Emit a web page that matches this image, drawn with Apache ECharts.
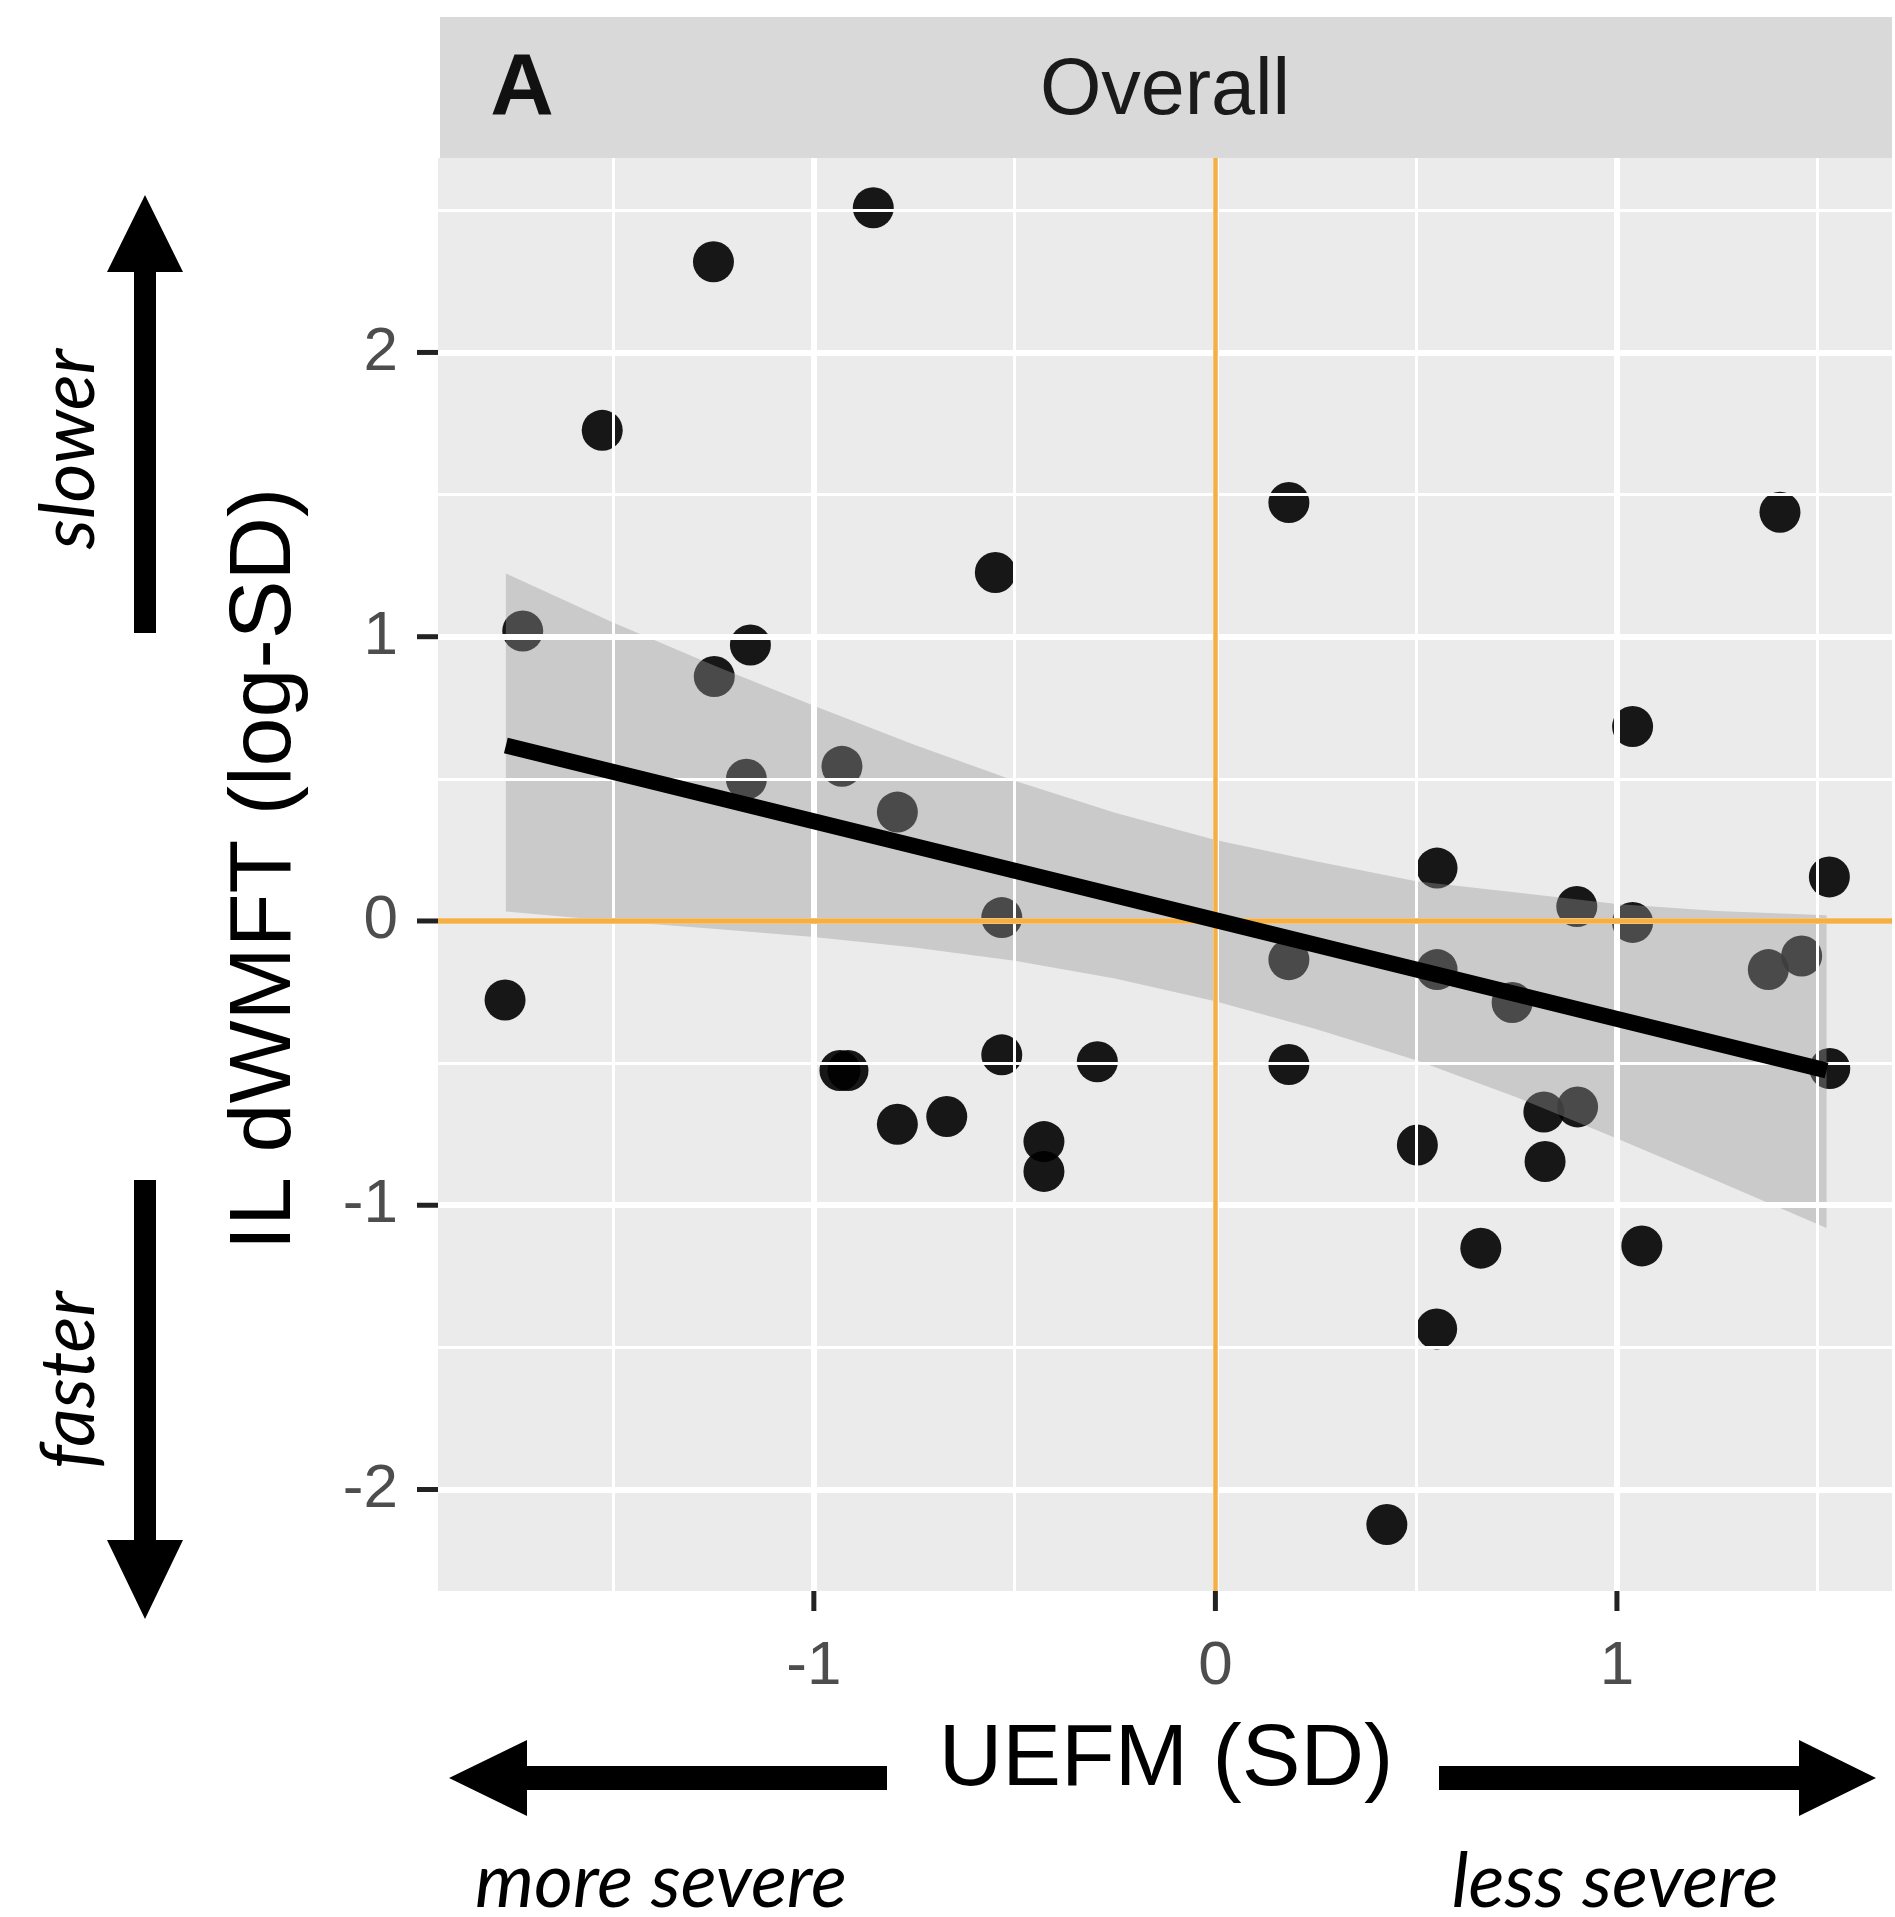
<!DOCTYPE html>
<html>
<head>
<meta charset="utf-8">
<script src="https://cdn.jsdelivr.net/npm/echarts@6/dist/echarts.min.js"></script>
<style>
  html, body { margin: 0; padding: 0; background: #fff; }
  #chart { width: 1895px; height: 1917px; }
</style>
</head>
<body>
<div id="chart"></div>
<script>
  // points: UEFM (SD) on x, IL dWMFT (log-SD) on y
  var uefm = [-1.250, -0.852, -1.527, 0.183, 1.406, -0.548, -1.725, -1.158, -1.248, -1.168,
              -0.930, -0.792, 1.039, 0.552, 1.529, 0.900, 1.039, -0.532, 0.183, 0.552,
              0.739, 1.377, 1.460, 1.530, -1.769, -0.935, -0.915, -0.532, -0.294, 0.183,
              -0.792, -0.669, -0.427, -0.427, 0.503, 0.818, 0.902, 0.821, 0.661, 1.062,
              0.551, 0.427];
  var dwmft = [2.319, 2.509, 1.726, 1.472, 1.438, 1.226, 1.020, 0.971, 0.860, 0.499,
               0.544, 0.383, 0.684, 0.186, 0.155, 0.051, -0.005, 0.012, -0.136, -0.171,
               -0.287, -0.171, -0.123, -0.519, -0.278, -0.526, -0.526, -0.471, -0.495, -0.505,
               -0.715, -0.688, -0.776, -0.881, -0.788, -0.672, -0.654, -0.846, -1.151, -1.143,
               -1.435, -2.123];

  // linear fit end points and its confidence band
  var fitX = [-1.767, 1.522];
  var fitY = [0.617, -0.526];
  var bandX = [-1.767, -1.5, -1.25, -1.0, -0.75, -0.5, -0.25, 0, 0.25, 0.5, 0.75, 1.0, 1.25, 1.522];
  var bandUpper = [1.222, 1.05, 0.90, 0.757, 0.62, 0.493, 0.381, 0.285, 0.21, 0.14, 0.10, 0.06, 0.035, 0.02];
  var bandLower = [0.033, 0.0, -0.027, -0.056, -0.093, -0.14, -0.202, -0.282, -0.38, -0.49, -0.62, -0.765, -0.915, -1.08];

  // ticks and grid
  var xTicks = [-1, 0, 1];
  var yTicks = [-2, -1, 0, 1, 2];
  var xMinor = [-1.5, -0.5, 0.5, 1.5];
  var yMinor = [-1.5, -0.5, 0.5, 1.5, 2.5];

  var points = uefm.map(function (x, i) { return [x, dwmft[i]]; });
  var fitLine = fitX.map(function (x, i) { return [x, fitY[i]]; });

  var sans = 'Liberation Sans, Arial, sans-serif';
  var italic = 'Lato, Open Sans, sans-serif';

  function gridMarks(values, dim, width) {
    return values.map(function (v) {
      var o = {};
      o[dim] = v;
      o.lineStyle = { color: '#FFFFFF', width: width, type: 'solid' };
      return o;
    });
  }

  var decorations = [
    { type: 'rect', shape: { x: 440, y: 17, width: 1452, height: 141 }, style: { fill: '#D9D9D9' }, z: -1 },
    { type: 'text', x: 522, y: 90, style: { text: 'A', fontSize: 88, fontWeight: 'bold', fontFamily: sans, fill: '#111111', textAlign: 'center', textVerticalAlign: 'middle' } },
    { type: 'text', x: 1165, y: 92, style: { text: 'Overall', fontSize: 79, fontFamily: sans, fill: '#1A1A1A', textAlign: 'center', textVerticalAlign: 'middle' } },
    { type: 'text', x: 266, y: 869, rotation: Math.PI / 2, style: { text: 'IL dWMFT (log-SD)', fontSize: 88, fontFamily: sans, fill: '#000000', textAlign: 'center', textVerticalAlign: 'middle' } },
    { type: 'text', x: 1166, y: 1761, style: { text: 'UEFM (SD)', fontSize: 88, fontFamily: sans, fill: '#000000', textAlign: 'center', textVerticalAlign: 'middle' } },
    { type: 'text', x: 70, y: 449, rotation: Math.PI / 2, style: { text: 'slower', fontSize: 75, fontStyle: 'italic', fontFamily: italic, fill: '#000000', textAlign: 'center', textVerticalAlign: 'middle' } },
    { type: 'text', x: 70, y: 1380, rotation: Math.PI / 2, style: { text: 'faster', fontSize: 75, fontStyle: 'italic', fontFamily: italic, fill: '#000000', textAlign: 'center', textVerticalAlign: 'middle' } },
    { type: 'text', x: 661, y: 1883, style: { text: 'more severe', fontSize: 75, fontStyle: 'italic', fontFamily: italic, fill: '#000000', textAlign: 'center', textVerticalAlign: 'middle' } },
    { type: 'text', x: 1615, y: 1883, style: { text: 'less severe', fontSize: 75, fontStyle: 'italic', fontFamily: italic, fill: '#000000', textAlign: 'center', textVerticalAlign: 'middle' } },
    // arrows
    { type: 'polygon', shape: { points: [[145, 195], [183, 272], [156, 272], [156, 633], [134, 633], [134, 272], [107, 272]] }, style: { fill: '#000000' } },
    { type: 'polygon', shape: { points: [[145, 1619], [107, 1540], [134, 1540], [134, 1180], [156, 1180], [156, 1540], [183, 1540]] }, style: { fill: '#000000' } },
    { type: 'polygon', shape: { points: [[449, 1778], [527, 1740], [527, 1766], [887, 1766], [887, 1790], [527, 1790], [527, 1816]] }, style: { fill: '#000000' } },
    { type: 'polygon', shape: { points: [[1876, 1778], [1799, 1740], [1799, 1766], [1439, 1766], [1439, 1790], [1799, 1790], [1799, 1816]] }, style: { fill: '#000000' } }
  ];

  var myChart = echarts.init(document.getElementById('chart'));
  myChart.setOption({
    animation: false,
    backgroundColor: '#FFFFFF',
    grid: {
      left: 438, right: 3, top: 158, bottom: 326,
      show: true, backgroundColor: '#EBEBEB', borderWidth: 0,
      outerBoundsMode: 'none'
    },
    xAxis: {
      type: 'value',
      min: -1.936, max: 1.685,
      axisLine: { show: false },
      splitLine: { show: false },
      axisTick: { show: false },
      axisLabel: { customValues: xTicks, fontSize: 62, color: '#4D4D4D', margin: 45, fontFamily: sans }
    },
    yAxis: {
      type: 'value',
      min: -2.357, max: 2.684,
      axisLine: { show: false },
      splitLine: { show: false },
      axisTick: { show: false },
      axisLabel: { customValues: yTicks, fontSize: 62, color: '#4D4D4D', margin: 40, fontFamily: sans }
    },
    series: [
      {
        // panel grid lines
        type: 'line', data: [], z: 1, silent: true,
        markLine: {
          silent: true, symbol: ['none', 'none'], label: { show: false }, animation: false,
          data: [].concat(
            gridMarks(xMinor, 'xAxis', 3),
            gridMarks(yMinor, 'yAxis', 3),
            gridMarks(xTicks, 'xAxis', 6),
            gridMarks(yTicks, 'yAxis', 6)
          )
        }
      },
      {
        type: 'scatter',
        data: points,
        z: 2,
        symbolSize: 41,
        itemStyle: { color: 'rgba(0,0,0,0.9)', opacity: 1 }
      },
      {
        // reference lines at zero
        type: 'line', data: [], z: 3, silent: true,
        markLine: {
          silent: true, symbol: ['none', 'none'], label: { show: false }, animation: false,
          data: [
            { xAxis: 0, lineStyle: { color: '#F5AF45', width: 4.5, type: 'solid' } },
            { yAxis: 0, lineStyle: { color: '#F5AF45', width: 5.5, type: 'solid' } }
          ]
        }
      },
      {
        type: 'custom',
        z: 4,
        silent: true,
        data: bandX.map(function (x, i) { return [x, bandUpper[i], bandLower[i]]; }),
        renderItem: function (params, api) {
          if (params.dataIndex !== 0) return null;
          var pts = [];
          for (var i = 0; i < bandX.length; i++) pts.push(api.coord([bandX[i], bandUpper[i]]));
          for (var j = bandX.length - 1; j >= 0; j--) pts.push(api.coord([bandX[j], bandLower[j]]));
          return { type: 'polygon', shape: { points: pts }, style: { fill: 'rgba(153,153,153,0.4)' } };
        }
      },
      {
        type: 'line',
        data: fitLine,
        z: 5,
        showSymbol: false,
        silent: true,
        lineStyle: { color: '#000000', width: 16 }
      }
    ],
    graphic: decorations
  });

  // axis tick marks, placed through the axes' own scales
  var tickMarks = [];
  xTicks.forEach(function (v) {
    var px = myChart.convertToPixel({ xAxisIndex: 0 }, v);
    tickMarks.push({ type: 'line', shape: { x1: px, y1: 1591, x2: px, y2: 1611 }, style: { stroke: '#222222', lineWidth: 5 } });
  });
  yTicks.forEach(function (v) {
    var py = myChart.convertToPixel({ yAxisIndex: 0 }, v);
    tickMarks.push({ type: 'line', shape: { x1: 417, y1: py, x2: 438, y2: py }, style: { stroke: '#222222', lineWidth: 5 } });
  });
  myChart.setOption({ graphic: decorations.concat(tickMarks) });
</script>
</body>
</html>
